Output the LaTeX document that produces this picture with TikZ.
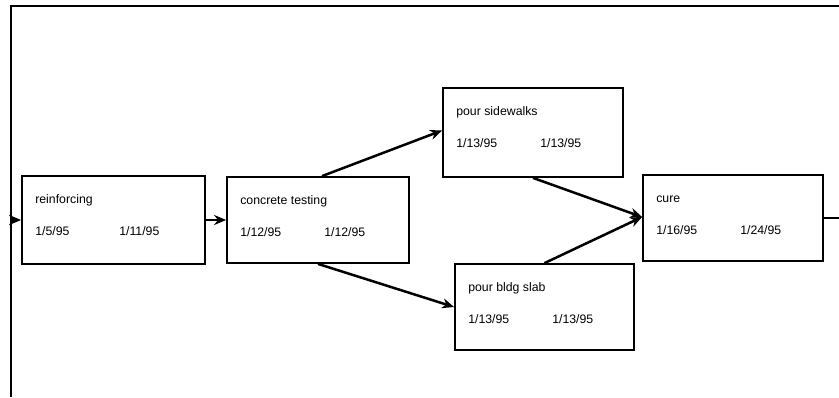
\documentclass[tikz,border=0pt]{standalone}
\usepackage{fontspec}
\setmainfont{Liberation Sans}
\usetikzlibrary{arrows.meta,calc}
\begin{document}
\begin{tikzpicture}[x=1pt,y=-1pt,
  taskbox/.style={draw,line width=1.8pt,inner sep=0pt},
  lbl/.style={anchor=base west,inner sep=0pt,font=\fontsize{12.3}{14}\selectfont},
  conn/.style={line width=2.5pt,-{Stealth[length=12pt,width=10pt]}},
  frameline/.style={line width=2.3pt}]
\useasboundingbox (0,0) rectangle (839,397);
\draw[frameline] (839,6) -- (11,6) -- (11,397);
% boxes
\node[taskbox,minimum width=183pt,minimum height=88pt] (rein) at (113.5,220) {};
\node[taskbox,minimum width=182pt,minimum height=86pt] (conc) at (318,220) {};
\node[taskbox,minimum width=180pt,minimum height=89pt] (side) at (533,132.5) {};
\node[taskbox,minimum width=179pt,minimum height=86pt] (slab) at (544.5,307) {};
\node[taskbox,minimum width=180pt,minimum height=86pt] (cure) at (733,218) {};
% texts
\foreach \b/\t/\d/\e in {rein/reinforcing/1\slash 5\slash 95/1\slash 11\slash 95,
  conc/concrete testing/1\slash 12\slash 95/1\slash 12\slash 95,
  side/pour sidewalks/1\slash 13\slash 95/1\slash 13\slash 95,
  slab/pour bldg slab/1\slash 13\slash 95/1\slash 13\slash 95,
  cure/cure/1\slash 16\slash 95/1\slash 24\slash 95}{
  \node[lbl] (\b-name) at ($(\b.north west)+(14,28)$) {\t};
  \node[lbl] (\b-start) at ($(\b.north west)+(14,60)$) {\d};
  \node[lbl] (\b-end) at ($(\b.north west)+(98,60)$) {\e};
}
% connectors
\coordinate (entry) at (11,220);
\coordinate (exit) at (839,218);
\draw[conn] (entry) -- (rein.west);
\draw[conn] (rein.east) -- (conc.west);
\draw[conn] ([xshift=4pt]conc.north) -- ([yshift=2pt]side.west);
\draw[conn] (conc.south) -- (slab.west);
\draw[conn] (side.south) -- ([yshift=1pt]cure.west);
\draw[conn] (slab.north) -- ([yshift=1pt]cure.west);
\draw[line width=2.3pt] (cure.east) -- (exit);
\end{tikzpicture}
\end{document}
